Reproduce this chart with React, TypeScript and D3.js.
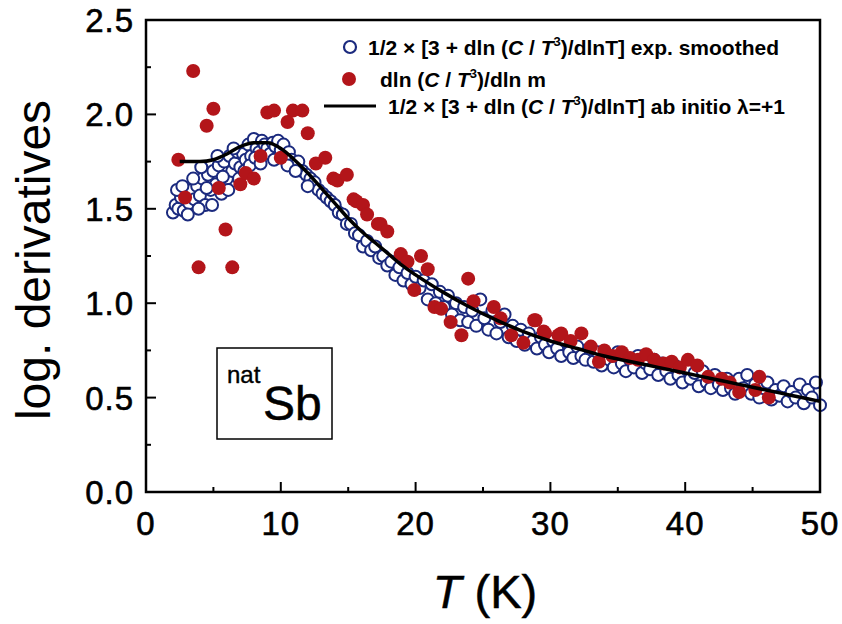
import React from "react";
import * as d3 from "d3";

// ---- data ----
const expT = [2.0,2.2,2.4,2.6,2.8,3.0,3.2,3.4,3.6,3.8,4.0,4.2,4.4,4.6,4.8,5.0,5.2,5.4,5.6,5.8,6.0,6.2,6.4,6.6,6.8,7.0,7.2,7.4,7.6,7.8,8.0,8.2,8.4,8.6,8.8,9.0,9.2,9.4,9.6,9.8,10.0,10.2,10.4,10.6,10.8,11.0,11.3,11.6,11.9,12.2,12.5,12.8,13.1,13.4,13.7,14.0,14.3,14.6,14.9,15.2,15.5,15.8,16.1,16.4,16.7,17.0,17.3,17.6,17.9,18.2,18.5,18.8,19.1,19.4,19.7,20.0,20.3,20.6,20.9,21.2,21.5,21.8,22.1,22.4,22.7,23.0,23.3,23.6,23.9,24.2,24.5,24.8,25.1,25.4,25.7,26.0,26.3,26.6,26.9,27.2,27.5,27.8,28.1,28.4,28.7,29.0,29.3,29.6,29.9,30.2,30.5,30.8,31.1,31.4,31.7,32.0,32.3,32.6,32.9,33.2,33.5,33.8,34.1,34.4,34.7,35.0,35.3,35.6,35.9,36.2,36.5,36.8,37.1,37.4,37.7,38.0,38.3,38.6,38.9,39.2,39.5,39.8,40.1,40.4,40.7,41.0,41.3,41.6,41.9,42.2,42.5,42.8,43.1,43.4,43.7,44.0,44.3,44.6,44.9,45.2,45.5,45.8,46.1,46.4,46.7,47.0,47.3,47.6,47.9,48.2,48.5,48.8,49.1,49.4,49.7,50.0,
  2.3,2.7,3.1,3.5,3.9,4.1,4.5,4.9,5.3,5.7,6.1,6.5,6.9,7.3,7.7,8.1,8.5,9.5,10.5,11.1,12.0];
const expV = [1.48,1.52,1.50,1.56,1.49,1.58,1.53,1.60,1.55,1.62,1.57,1.66,1.52,1.68,1.60,1.70,1.63,1.73,1.58,1.75,1.66,1.78,1.70,1.74,1.80,1.72,1.79,1.76,1.84,1.78,1.87,1.82,1.80,1.86,1.84,1.82,1.79,1.85,1.83,1.86,1.81,1.84,1.77,1.80,1.76,1.74,1.75,1.70,1.68,1.66,1.64,1.60,1.58,1.56,1.54,1.52,1.48,1.47,1.42,1.42,1.37,1.36,1.30,1.33,1.28,1.30,1.24,1.25,1.20,1.22,1.15,1.19,1.12,1.16,1.10,1.14,1.08,1.12,1.02,1.10,1.00,1.06,0.98,1.04,0.94,1.00,0.91,0.98,0.90,0.96,0.88,1.02,0.92,0.86,0.96,0.84,0.90,0.94,0.82,0.88,0.80,0.86,0.78,0.84,0.80,0.76,0.82,0.78,0.74,0.80,0.76,0.72,0.80,0.74,0.71,0.77,0.72,0.70,0.76,0.69,0.74,0.67,0.72,0.70,0.66,0.74,0.68,0.64,0.70,0.66,0.72,0.63,0.68,0.65,0.70,0.62,0.68,0.64,0.60,0.67,0.62,0.58,0.65,0.60,0.63,0.56,0.64,0.58,0.55,0.62,0.57,0.54,0.60,0.55,0.52,0.60,0.55,0.62,0.52,0.57,0.50,0.55,0.58,0.49,0.54,0.51,0.56,0.48,0.53,0.50,0.57,0.47,0.54,0.50,0.58,0.46,
  1.60,1.62,1.47,1.66,1.50,1.72,1.61,1.52,1.78,1.67,1.60,1.82,1.66,1.70,1.73,1.77,1.74,1.76,1.73,1.70,1.62];

const mT = [3.5,5.0,4.5,2.4,2.9,5.9,3.9,6.4,5.4,7.0,7.4,8.0,8.5,9.0,9.5,10.5,10.9,11.6,12.0,10.0,12.6,13.3,13.9,14.2,14.9,15.4,15.6,16.1,16.4,17.2,17.4,17.9,18.9,19.4,20.4,20.9,23.9,19.9,21.4,21.9,22.6,23.4,24.3,25.8,26.3,27.1,28.0,28.8,29.5,30.6,28.9,29.6,30.8,31.5,32.3,33.0,33.6,34.0,34.6,35.3,35.9,36.5,37.1,37.7,38.4,39.0,39.6,40.2,40.9,41.7,42.7,43.3,44.0,45.2,45.5,46.2];
const mV = [2.23,2.03,1.94,1.76,1.56,1.39,1.19,1.19,1.61,1.63,1.69,1.66,1.78,2.01,2.02,1.96,2.02,2.02,1.90,1.77,1.74,1.77,1.66,1.65,1.68,1.55,1.54,1.52,1.47,1.42,1.42,1.38,1.26,1.22,1.25,1.18,1.13,1.07,0.98,0.97,0.90,0.83,1.01,0.98,0.92,0.83,0.79,0.91,0.85,0.83,0.91,0.84,0.84,0.80,0.84,0.77,0.69,0.75,0.72,0.74,0.71,0.70,0.73,0.70,0.68,0.69,0.66,0.70,0.67,0.61,0.60,0.58,0.53,0.54,0.61,0.50];

const lineT = [2.5,4,5,6,7,8,9,10,11,12,13,14,15,16,17,18,19,20,22,24,26,28,30,32,34,36,38,40,42,44,46,48,50];
const lineV = [1.75,1.75,1.76,1.79,1.83,1.85,1.85,1.82,1.76,1.69,1.61,1.53,1.45,1.38,1.32,1.26,1.20,1.15,1.06,0.98,0.91,0.85,0.80,0.76,0.72,0.69,0.66,0.63,0.60,0.57,0.54,0.51,0.48];

const xTicks = [0,10,20,30,40,50];
const xMinor = [5,15,25,35,45];
const yTicks = [0,0.5,1.0,1.5,2.0,2.5];
const yMinor = [0.25,0.75,1.25,1.75,2.25];

const W = 842, H = 624;
const L = 146, R = 820, T0 = 20, B = 492;

const x = d3.scaleLinear().domain([0, 50]).range([L, R]);
const y = d3.scaleLinear().domain([0, 2.5]).range([B, T0]);

const NAVY = "#1b2a7e";
const RED = "#b3151a";
const FONT = "'Liberation Sans', Arial, Helvetica, sans-serif";

function Sup() {
  return <tspan fontSize={13} dy={-9}>3</tspan>;
}

export default function App() {
  const line = d3.line<number>().x((_, i) => x(lineT[i])).y((v) => y(v)).curve(d3.curveMonotoneX);
  return (
    <svg width={W} height={H} style={{ position: "absolute", left: 0, top: 0, background: "#fff" }} fontFamily={FONT}>
      <rect x={0} y={0} width={W} height={H} fill="#fff" />
      {/* open circles */}
      {expT.map((t, i) => (
        <circle key={"e" + i} cx={x(t)} cy={y(expV[i])} r={6} fill="#fff" stroke={NAVY} strokeWidth={2} />
      ))}
      {/* filled */}
      {mT.map((t, i) => (
        <circle key={"m" + i} cx={x(t)} cy={y(mV[i])} r={7} fill={RED} />
      ))}
      {/* line */}
      <path d={line(lineV) || ""} fill="none" stroke="#000" strokeWidth={3.5} />

      {/* frame */}
      <rect x={L} y={T0} width={R - L} height={B - T0} fill="none" stroke="#000" strokeWidth={2.5} />
      {xTicks.map((t) => (
        <line key={"xt" + t} x1={x(t)} x2={x(t)} y1={B} y2={B - 10} stroke="#000" strokeWidth={2} />
      ))}
      {xMinor.map((t) => (
        <line key={"xm" + t} x1={x(t)} x2={x(t)} y1={B} y2={B - 5} stroke="#000" strokeWidth={2} />
      ))}
      {yTicks.map((t) => (
        <line key={"yt" + t} x1={L} x2={L + 10} y1={y(t)} y2={y(t)} stroke="#000" strokeWidth={2} />
      ))}
      {yMinor.map((t) => (
        <line key={"ym" + t} x1={L} x2={L + 5} y1={y(t)} y2={y(t)} stroke="#000" strokeWidth={2} />
      ))}
      {xTicks.map((t) => (
        <text key={"xl" + t} x={x(t)} y={B + 43} textAnchor="middle" fontSize={33} letterSpacing={1} stroke="#000" strokeWidth={0.6}>{t}</text>
      ))}
      {yTicks.map((t) => (
        <text key={"yl" + t} x={L - 12} y={y(t) + 12} textAnchor="end" fontSize={33} letterSpacing={1} stroke="#000" strokeWidth={0.6}>{t.toFixed(1)}</text>
      ))}
      <text transform={`translate(50,${(T0 + B) / 2 + 4}) rotate(-90)`} textAnchor="middle" fontSize={48}>log. derivatives</text>
      <text x={(L + R) / 2 + 2} y={608} textAnchor="middle" fontSize={47} stroke="#000" strokeWidth={0.5}>
        <tspan fontStyle="italic">T</tspan> (K)
      </text>

      {/* legend */}
      <circle cx={350} cy={47} r={6} fill="#fff" stroke={NAVY} strokeWidth={2.2} />
      <text x={368} y={55} fontSize={21} fontWeight="bold">
        1/2 × [3 + dln (<tspan fontStyle="italic">C</tspan> / <tspan fontStyle="italic">T</tspan>
        <Sup /><tspan dy={9}>)/dlnT] exp. smoothed</tspan>
      </text>
      <circle cx={349} cy={79} r={7} fill={RED} />
      <text x={380} y={87} fontSize={21} fontWeight="bold">
        dln (<tspan fontStyle="italic">C</tspan> / <tspan fontStyle="italic">T</tspan>
        <Sup /><tspan dy={9}>)/dln m</tspan>
      </text>
      <line x1={324} x2={376} y1={106} y2={106} stroke="#000" strokeWidth={3} />
      <text x={388} y={114} fontSize={21} fontWeight="bold">
        1/2 × [3 + dln (<tspan fontStyle="italic">C</tspan> / <tspan fontStyle="italic">T</tspan>
        <Sup /><tspan dy={9}>)/dlnT] ab initio λ=+1</tspan>
      </text>

      {/* inset label */}
      <rect x={217} y={348} width={115} height={91} fill="#fff" stroke="#000" strokeWidth={1.5} />
      <text x={227} y={383} fontSize={24} stroke="#000" strokeWidth={0.4}>nat</text>
      <text x={263} y={420} fontSize={48} stroke="#000" strokeWidth={0.5}>Sb</text>
    </svg>
  );
}
